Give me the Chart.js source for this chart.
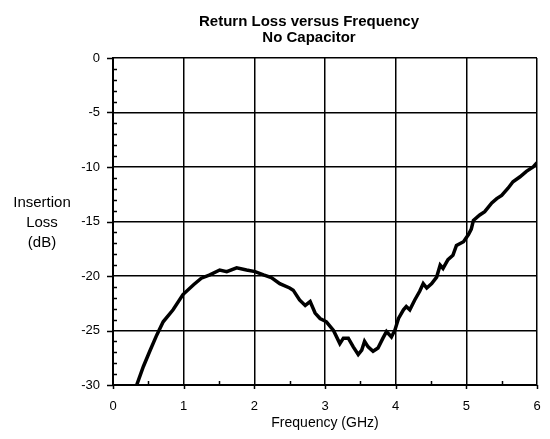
<!DOCTYPE html>
<html>
<head>
<meta charset="utf-8">
<script src="https://cdn.jsdelivr.net/npm/chart.js@4/dist/chart.umd.min.js"></script>
<style>
  html, body { margin: 0; padding: 0; background: #fff; }
  #wrap { width: 550px; height: 439px; }
</style>
</head>
<body>
<div id="wrap"><canvas id="chart"></canvas></div>
<script>
// Frequenz (GHz) und Verlust (dB)
const freq = [0.33, 0.43, 0.52, 0.62, 0.71, 0.85, 0.99, 1.14, 1.25, 1.37, 1.51, 1.61, 1.75, 1.89, 2.01,
  2.13, 2.24, 2.36, 2.50, 2.55, 2.64, 2.72, 2.79, 2.86, 2.93, 3.02, 3.12, 3.21, 3.26, 3.33,
  3.40, 3.47, 3.52, 3.56, 3.61, 3.68, 3.75, 3.82, 3.87, 3.94, 3.99, 4.04, 4.11, 4.15, 4.20,
  4.27, 4.34, 4.39, 4.44, 4.51, 4.58, 4.63, 4.67, 4.74, 4.81, 4.86, 4.96, 5.03, 5.07, 5.10,
  5.19, 5.26, 5.36, 5.43, 5.50, 5.59, 5.66, 5.76, 5.85, 5.95, 6.00];
const loss = [-30.1, -28.3, -26.9, -25.4, -24.2, -23.1, -21.7, -20.8, -20.2, -19.9, -19.45, -19.6, -19.25, -19.45, -19.6,
  -19.9, -20.15, -20.7, -21.1, -21.3, -22.2, -22.7, -22.35, -23.4, -23.9, -24.2, -25.0, -26.2, -25.7, -25.7,
  -26.5, -27.2, -26.8, -26.0, -26.5, -26.9, -26.6, -25.7, -25.1, -25.6, -24.95, -23.9, -23.1, -22.8, -23.1,
  -22.2, -21.4, -20.7, -21.1, -20.7, -20.1, -19.0, -19.3, -18.5, -18.1, -17.2, -16.85, -16.2, -15.7, -14.9,
  -14.4, -14.1, -13.3, -12.9, -12.6, -11.95, -11.35, -10.9, -10.4, -9.97, -9.6];

const titleLines = ['Return Loss versus Frequency', 'No Capacitor'];
const yTitleLines = ['Insertion', 'Loss', '(dB)'];
const xTitle = 'Frequency (GHz)';

const FONT = "'Liberation Sans', Arial, sans-serif";

// Titel, y-Achsentitel und Teilstriche selbst zeichnen
const extras = {
  id: 'extras',
  beforeDatasetsDraw(chart) {
    const ctx = chart.ctx;
    const x = chart.scales.x, y = chart.scales.y;
    const a = chart.chartArea;
    ctx.save();
    ctx.strokeStyle = '#000';
    ctx.lineWidth = 1.5;
    ctx.beginPath();
    for (let v = y.min; v <= y.max; v += 1) {
      const py = Math.round(y.getPixelForValue(v)) + 0.5;
      if (v % 5 === 0) {
        ctx.moveTo(a.left - 6, py); ctx.lineTo(a.left, py);
      } else {
        ctx.moveTo(a.left, py); ctx.lineTo(a.left + 4, py);
      }
    }
    for (let v = x.min; v <= x.max + 0.001; v += 0.5) {
      const px = Math.round(x.getPixelForValue(v)) + 0.5;
      if (v % 1 === 0) {
        ctx.moveTo(px, a.bottom); ctx.lineTo(px, a.bottom + 4);
      } else {
        ctx.moveTo(px, a.bottom); ctx.lineTo(px, a.bottom - 4);
      }
    }
    ctx.stroke();
    ctx.restore();
  },
  afterDraw(chart) {
    const ctx = chart.ctx;
    ctx.save();
    ctx.fillStyle = '#000';
    ctx.textAlign = 'center';
    ctx.textBaseline = 'middle';
    ctx.font = 'bold 15px ' + FONT;
    titleLines.forEach((t, i) => ctx.fillText(t, 309, 22 + i * 16));
    ctx.font = '15px ' + FONT;
    yTitleLines.forEach((t, i) => ctx.fillText(t, 42, 203 + i * 20));
    ctx.restore();
  }
};

new Chart(document.getElementById('chart'), {
  type: 'scatter',
  data: {
    datasets: [{
      data: freq.map((f, i) => ({ x: f, y: loss[i] })),
      showLine: true,
      borderColor: '#000',
      borderWidth: 3.5,
      pointRadius: 0,
      tension: 0
    }]
  },
  options: {
    responsive: true,
    maintainAspectRatio: false,
    animation: false,
    layout: { padding: { top: 58, right: 13, left: 0, bottom: 0 } },
    plugins: {
      legend: { display: false },
      tooltip: { enabled: false }
    },
    scales: {
      x: {
        type: 'linear',
        min: 0, max: 6,
        afterFit(s) { s.height = 54; },
        ticks: { stepSize: 1, padding: 2, color: '#000', font: { family: FONT, size: 13 } },
        grid: { color: '#000', lineWidth: 1.5, drawTicks: true, tickLength: 12, tickColor: 'rgba(0,0,0,0)' },
        border: { color: '#000', width: 2 },
        title: { display: true, text: xTitle, color: '#000', font: { family: FONT, size: 14 }, padding: { top: 0, bottom: 7 } }
      },
      y: {
        min: -30, max: 0,
        afterFit(s) { s.width = 113; },
        ticks: { stepSize: 5, padding: 13, color: '#000', font: { family: FONT, size: 13 } },
        grid: { color: '#000', lineWidth: 1.5, drawTicks: false },
        border: { color: '#000', width: 2 }
      }
    }
  },
  plugins: [extras]
});
</script>
</body>
</html>
